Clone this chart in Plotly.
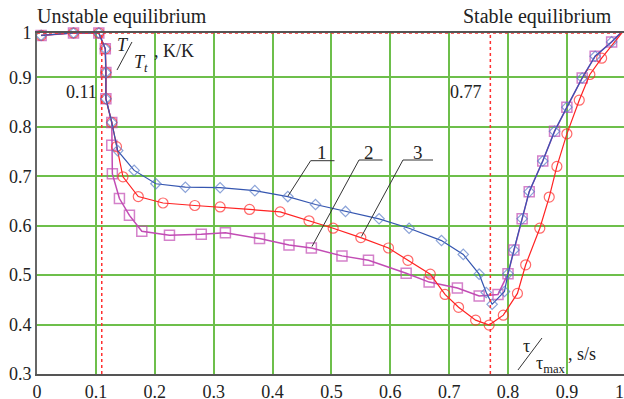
import plotly.graph_objects as go

# ---- data ----
shared_start_x = [0.007, 0.062, 0.105, 0.116, 0.117, 0.117, 0.127]
shared_start_y = [0.985, 0.990, 0.990, 0.958, 0.910, 0.857, 0.809]

s1_mid_x = [0.137, 0.165, 0.202, 0.252, 0.311, 0.370, 0.426, 0.473, 0.524, 0.581,
            0.632, 0.687, 0.724, 0.751, 0.763, 0.773, 0.794]
s1_mid_y = [0.752, 0.712, 0.685, 0.678, 0.677, 0.671, 0.659, 0.643, 0.629, 0.614,
            0.595, 0.570, 0.542, 0.502, 0.465, 0.441, 0.467]

s3_mid_x = [0.127, 0.128, 0.140, 0.157, 0.178, 0.225, 0.279, 0.320, 0.378, 0.428,
            0.466, 0.518, 0.563, 0.627, 0.666, 0.714, 0.751, 0.783]
s3_mid_y = [0.763, 0.705, 0.655, 0.621, 0.589, 0.581, 0.583, 0.586, 0.574, 0.561,
            0.555, 0.539, 0.530, 0.504, 0.486, 0.474, 0.458, 0.461]

rise_x = [0.800, 0.810, 0.824, 0.836, 0.859, 0.879, 0.900, 0.926, 0.948, 0.976, 1.0]
rise_y = [0.503, 0.551, 0.614, 0.669, 0.731, 0.791, 0.840, 0.899, 0.943, 0.972, 1.0]

s2_tail_x = [0.135, 0.146, 0.172, 0.214, 0.268, 0.311, 0.361, 0.413, 0.462, 0.503,
             0.550, 0.597, 0.630, 0.668, 0.693, 0.716, 0.745, 0.768, 0.792, 0.816,
             0.830, 0.854, 0.870, 0.883, 0.900, 0.921, 0.939, 0.959, 1.0]
s2_tail_y = [0.760, 0.699, 0.659, 0.646, 0.641, 0.638, 0.633, 0.628, 0.610, 0.595,
             0.576, 0.555, 0.530, 0.502, 0.461, 0.435, 0.409, 0.399, 0.419, 0.463,
             0.521, 0.595, 0.658, 0.720, 0.786, 0.854, 0.906, 0.939, 1.0]

x_ticks = [0, 0.1, 0.2, 0.3, 0.4, 0.5, 0.6, 0.7, 0.8, 0.9]
y_ticks = [0.3, 0.4, 0.5, 0.6, 0.7, 0.8, 0.9]
x_limits = [0, 0.997]
y_limits = [0.3, 0.99]
mark_lines_x = [0.11, 0.77]

# ---- build series ----
s1_x = shared_start_x + s1_mid_x + rise_x
s1_y = shared_start_y + s1_mid_y + rise_y
s2_x = shared_start_x + s2_tail_x
s2_y = shared_start_y + s2_tail_y
s3_x = shared_start_x + s3_mid_x + rise_x
s3_y = shared_start_y + s3_mid_y + rise_y


def sizes(n, s):
    return [s] * (n - 1) + [0]


FONT = "Liberation Serif, Times New Roman, Tinos, DejaVu Serif, serif"
fig = go.Figure()

fig.add_trace(go.Scatter(x=s3_x, y=s3_y, mode="lines+markers", cliponaxis=False,
                         line=dict(color="#c24cb4", width=1.5),
                         marker=dict(symbol="square-open", size=sizes(len(s3_x), 10),
                                     color="#c24cb4", line=dict(width=1.5))))
fig.add_trace(go.Scatter(x=s2_x, y=s2_y, mode="lines+markers", cliponaxis=False,
                         line=dict(color="#ff2222", width=1.2),
                         marker=dict(symbol="circle-open", size=sizes(len(s2_x), 10),
                                     color="#ff2a2a", line=dict(width=1.2))))
fig.add_trace(go.Scatter(x=s1_x, y=s1_y, mode="lines+markers", cliponaxis=False,
                         line=dict(color="#3556b0", width=1.2),
                         marker=dict(symbol="diamond-open", size=sizes(len(s1_x), 8),
                                     color="#5a7cc8", line=dict(width=1.2))))

shapes = []
for xv in mark_lines_x:
    shapes.append(dict(type="line", xref="x", yref="paper", x0=xv, x1=xv, y0=0, y1=1,
                       line=dict(color="#ff3030", width=1.5, dash="3px,3px"), layer="above"))
shapes.append(dict(type="line", xref="paper", yref="y", x0=0, x1=1, y0=y_limits[1], y1=y_limits[1],
                   line=dict(color="#ff3030", width=1.5, dash="3px,3px"), layer="above"))

ink = "#333333"
leaders = [
    [(0.4648, 0.7316), (0.5053, 0.7316), (0.4263, 0.6602)],
    [(0.5469, 0.7330), (0.5868, 0.7330), (0.4671, 0.5580)],
    [(0.6216, 0.7330), (0.6726, 0.7330), (0.5511, 0.5782)],
]
for (a, b, c) in leaders:
    shapes.append(dict(type="line", xref="x", yref="y", x0=a[0], y0=a[1], x1=b[0], y1=b[1],
                       line=dict(color=ink, width=1)))
    shapes.append(dict(type="line", xref="x", yref="y", x0=a[0], y0=a[1], x1=c[0], y1=c[1],
                       line=dict(color=ink, width=1)))
# fraction slashes
shapes.append(dict(type="line", xref="x", yref="y", x0=0.1359, y0=0.9151, x1=0.1613, y1=0.9718,
                   line=dict(color=ink, width=1)))
shapes.append(dict(type="line", xref="x", yref="y", x0=0.8169, y0=0.3081, x1=0.8577, y1=0.3728,
                   line=dict(color=ink, width=1)))

ann = []


def add_text(text, x, y, xanchor="center", yanchor="middle", size=18, xref="x", yref="y"):
    ann.append(dict(text=text, x=x, y=y, xref=xref, yref=yref, xanchor=xanchor, yanchor=yanchor,
                    showarrow=False, font=dict(family=FONT, size=size, color="#222222")))


add_text("Unstable equilibrium", -0.004, 1.047, xanchor="left", size=20, xref="paper", yref="paper")
add_text("Stable equilibrium", 0.983, 1.047, xanchor="right", size=20, xref="paper", yref="paper")
add_text("0.11", 0.0756, 0.8706)
add_text("0.77", 0.7286, 0.8706)
add_text("1", 0.484, 0.7492, size=19)
add_text("2", 0.5639, 0.7492, size=19)
add_text("3", 0.6471, 0.7492, size=19)
add_text("<i>T</i>", 0.146, 0.9657)
add_text("<i>T</i><sub><i>t</i></sub>", 0.1613, 0.9273, xanchor="left")
add_text(", K/K", 0.1953, 0.9536, xanchor="left")
add_text("τ", 0.8322, 0.3567)
add_text("τ<sub>max</sub>", 0.8441, 0.3202, xanchor="left")
add_text(", s/s", 0.8984, 0.3405, xanchor="left")

fig.update_layout(
    width=624, height=399,
    margin=dict(l=37, r=0, t=33, b=25, autoexpand=False),
    paper_bgcolor="white", plot_bgcolor="white",
    showlegend=False,
    font=dict(family=FONT, size=18, color="#222222"),
    shapes=shapes, annotations=ann,
)
fig.update_xaxes(range=x_limits, tickvals=x_ticks + [x_limits[1]],
                 ticktext=[f"{v:g}" for v in x_ticks] + ["1&nbsp;&nbsp;"],
                 ticklabeloverflow="allow", automargin=False,
                 showgrid=True, gridcolor="#6dbf4b", gridwidth=1.5,
                 showline=True, linecolor="#555555", linewidth=2, mirror=True,
                 zeroline=False, ticks="", tickfont=dict(family=FONT, size=18))
fig.update_yaxes(range=y_limits, tickvals=y_ticks + [y_limits[1]],
                 ticktext=[f"{v:g}" for v in y_ticks] + ["1"],
                 automargin=False,
                 showgrid=True, gridcolor="#6dbf4b", gridwidth=1.5,
                 showline=True, linecolor="#666666", linewidth=2,
                 zeroline=False, ticks="", tickfont=dict(family=FONT, size=18))

fig.write_html("out.html", config={"displayModeBar": False},
               post_script="document.body.style.margin='0';document.body.style.padding='0';")
